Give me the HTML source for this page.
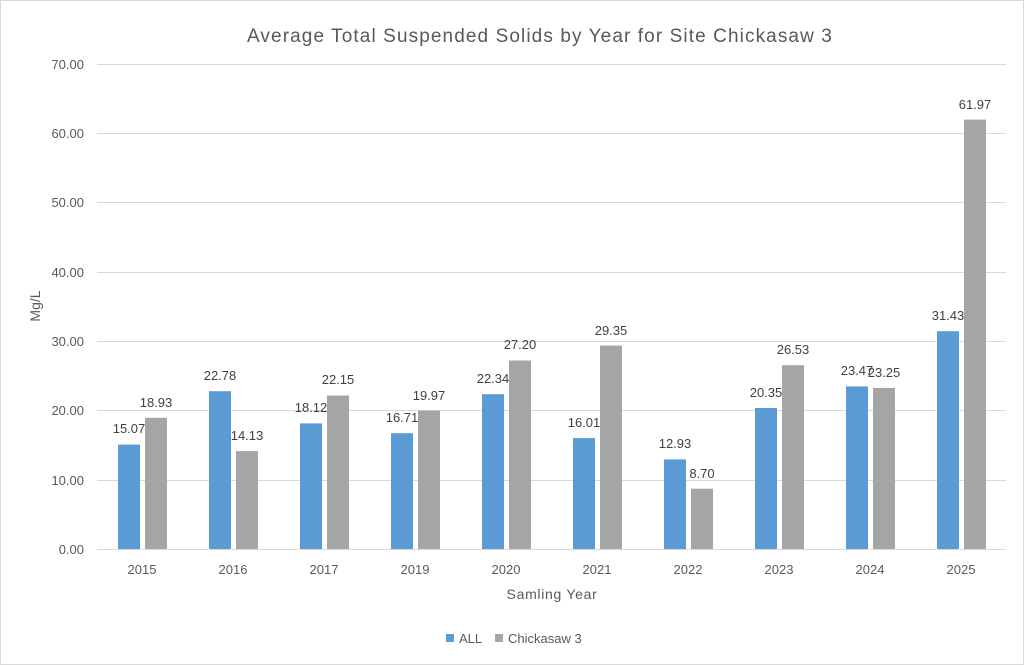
<!DOCTYPE html>
<html><head><meta charset="utf-8"><style>
html,body{margin:0;padding:0;background:#fff;}
svg{display:block;font-family:"Liberation Sans",sans-serif;}
</style></head><body>
<svg width="1024" height="665" viewBox="0 0 1024 665">
<rect x="0.5" y="0.5" width="1023" height="664" fill="#fff" stroke="#d9d9d9"/>
<text x="540" y="42" font-size="19" fill="#595959" text-anchor="middle" letter-spacing="1.1">Average Total Suspended Solids by Year for Site Chickasaw 3</text>
<g stroke="#d9d9d9" stroke-width="1">
<line x1="97" x2="1006" y1="64.5" y2="64.5"/>
<line x1="97" x2="1006" y1="133.5" y2="133.5"/>
<line x1="97" x2="1006" y1="202.5" y2="202.5"/>
<line x1="97" x2="1006" y1="272.5" y2="272.5"/>
<line x1="97" x2="1006" y1="341.5" y2="341.5"/>
<line x1="97" x2="1006" y1="410.5" y2="410.5"/>
<line x1="97" x2="1006" y1="480.5" y2="480.5"/>
<line x1="97" x2="1006" y1="549.5" y2="549.5"/>
</g>
<g font-size="13" fill="#595959" text-anchor="end">
<text x="84" y="69">70.00</text><text x="84" y="138">60.00</text><text x="84" y="207">50.00</text>
<text x="84" y="277">40.00</text><text x="84" y="346">30.00</text><text x="84" y="415">20.00</text>
<text x="84" y="485">10.00</text><text x="84" y="554">0.00</text>
</g>
<text transform="translate(40,306) rotate(-90)" font-size="14" fill="#595959" text-anchor="middle">Mg/L</text>
<g fill="#5B9BD5">
<rect x="118" y="444.6" width="22" height="104.4"/>
<rect x="209" y="391.2" width="22" height="157.8"/>
<rect x="300" y="423.4" width="22" height="125.6"/>
<rect x="391" y="433.2" width="22" height="115.8"/>
<rect x="482" y="394.2" width="22" height="154.8"/>
<rect x="573" y="438.1" width="22" height="110.9"/>
<rect x="664" y="459.4" width="22" height="89.6"/>
<rect x="755" y="408" width="22" height="141"/>
<rect x="846" y="386.4" width="22" height="162.6"/>
<rect x="937" y="331.2" width="22" height="217.8"/>
</g>
<g fill="#A5A5A5">
<rect x="145" y="417.8" width="22" height="131.2"/>
<rect x="236" y="451.1" width="22" height="97.9"/>
<rect x="327" y="395.5" width="22" height="153.5"/>
<rect x="418" y="410.6" width="22" height="138.4"/>
<rect x="509" y="360.5" width="22" height="188.5"/>
<rect x="600" y="345.6" width="22" height="203.4"/>
<rect x="691" y="488.7" width="22" height="60.3"/>
<rect x="782" y="365.2" width="22" height="183.8"/>
<rect x="873" y="387.9" width="22" height="161.1"/>
<rect x="964" y="119.6" width="22" height="429.4"/>
</g>
<g font-size="13" fill="#404040" text-anchor="middle">
<text x="129" y="433">15.07</text><text x="156" y="407">18.93</text>
<text x="220" y="380">22.78</text><text x="247" y="440">14.13</text>
<text x="311" y="412">18.12</text><text x="338" y="384">22.15</text>
<text x="402" y="422">16.71</text><text x="429" y="400">19.97</text>
<text x="493" y="383">22.34</text><text x="520" y="349">27.20</text>
<text x="584" y="427">16.01</text><text x="611" y="335">29.35</text>
<text x="675" y="448">12.93</text><text x="702" y="478">8.70</text>
<text x="766" y="397">20.35</text><text x="793" y="354">26.53</text>
<text x="857" y="375">23.47</text><text x="884" y="377">23.25</text>
<text x="948" y="320">31.43</text><text x="975" y="109">61.97</text>
</g>
<g font-size="13" fill="#595959" text-anchor="middle">
<text x="142" y="574">2015</text><text x="233" y="574">2016</text><text x="324" y="574">2017</text>
<text x="415" y="574">2019</text><text x="506" y="574">2020</text><text x="597" y="574">2021</text>
<text x="688" y="574">2022</text><text x="779" y="574">2023</text><text x="870" y="574">2024</text>
<text x="961" y="574">2025</text>
</g>
<text x="552" y="599" font-size="14" fill="#595959" text-anchor="middle" letter-spacing="0.7">Samling Year</text>
<rect x="446" y="634" width="8" height="8" fill="#5B9BD5"/>
<text x="459" y="643" font-size="13" fill="#595959">ALL</text>
<rect x="495" y="634" width="8" height="8" fill="#A5A5A5"/>
<text x="508" y="643" font-size="13" fill="#595959">Chickasaw 3</text>
</svg>
</body></html>
